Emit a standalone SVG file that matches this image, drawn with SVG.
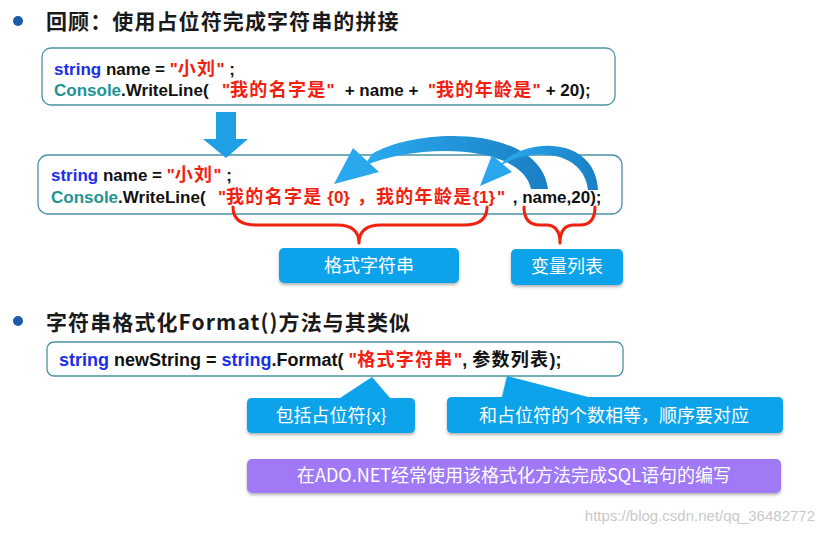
<svg xmlns="http://www.w3.org/2000/svg" width="824" height="533" viewBox="0 0 824 533">
<defs>
<style>
.title{font-family:"Noto Sans CJK SC","Liberation Sans",sans-serif;font-weight:bold;font-size:21px;fill:#1a1a1a;letter-spacing:1.1px}
.code{font-family:"Liberation Sans","Noto Sans CJK SC",sans-serif;font-weight:bold;font-size:17px;fill:#111}
.cjk{font-family:"Noto Sans CJK SC",sans-serif;font-size:18px;letter-spacing:1.3px}
.kw{fill:#1a2fe8}
.cls{fill:#1e9494}
.str{fill:#f2200f}
.box{fill:#fff;stroke:#4a93a3;stroke-width:1.3}
.callout{fill:#0ea3ea;filter:url(#sh)}
.purple{fill:#a07af6;filter:url(#sh)}
.ctext{font-family:"Noto Sans CJK SC",sans-serif;font-size:18px;fill:#fff;text-anchor:middle}
.brace{fill:none;stroke:#f2200f;stroke-width:3;stroke-linecap:round;stroke-linejoin:round}
.bullet{fill:#1d5aa8}
</style>
<filter id="sh" x="-10%" y="-20%" width="120%" height="150%">
<feDropShadow dx="0" dy="2" stdDeviation="1.5" flood-color="#000" flood-opacity="0.3"/>
</filter>
<linearGradient id="g1" x1="0" y1="0" x2="1" y2="0">
<stop offset="0" stop-color="#2aaaf0"/>
<stop offset="1" stop-color="#1a7fc4"/>
</linearGradient>
</defs>

<g id="heading1">
<circle class="bullet" cx="18" cy="21" r="5"/>
<text class="title" x="46" y="29">回顾：使用占位符完成字符串的拼接</text>
</g>

<g id="code1">
<rect class="box" x="42" y="48" width="573" height="57" rx="9"/>
<text class="code" x="54" y="75"><tspan class="kw">string</tspan> name = <tspan class="str">"<tspan class="cjk">小刘</tspan>"</tspan> ;</text>
<text class="code" y="96"><tspan x="54" class="cls">Console</tspan>.WriteLine( <tspan x="222" class="str">"<tspan class="cjk">我的名字是</tspan>"</tspan><tspan x="340"> + name + </tspan><tspan x="428" class="str">"<tspan class="cjk">我的年龄是</tspan>"</tspan><tspan x="541"> + 20);</tspan></text>
</g>

<g id="code2">
<rect class="box" x="38" y="155" width="584" height="59" rx="10"/>
<text class="code" x="51" y="181"><tspan class="kw">string</tspan> name = <tspan class="str">"<tspan class="cjk">小刘</tspan>"</tspan> ;</text>
<text class="code" y="203"><tspan x="51" class="cls">Console</tspan>.WriteLine( <tspan x="218" class="str">"<tspan class="cjk">我的名字是</tspan> {0}</tspan><tspan x="357" class="str cjk">，</tspan><tspan x="376" class="str"><tspan class="cjk">我的年龄是</tspan>{1}</tspan><tspan x="497" class="str">"</tspan><tspan x="508"> , name,20);</tspan></text>
</g>

<g id="label-format">
<rect class="callout" x="279" y="248" width="180" height="35" rx="5"/>
<text class="ctext" x="369" y="272">格式字符串</text>
</g>

<g id="label-vars">
<rect class="callout" x="511" y="249" width="112" height="36" rx="5"/>
<text class="ctext" x="567" y="273">变量列表</text>
</g>

<g id="heading2">
<circle class="bullet" cx="18" cy="321" r="5"/>
<text class="title" x="46" y="330">字符串格式化Format()方法与其类似</text>
</g>

<g id="code3">
<rect class="box" x="47" y="342" width="576" height="34" rx="7"/>
<text class="code" x="59" y="366" style="font-size:18px"><tspan class="kw">string</tspan> newString = <tspan class="kw">string</tspan>.Format( <tspan class="str">"<tspan class="cjk">格式字符串</tspan>"</tspan>, <tspan class="cjk">参数列表</tspan>);</text>
</g>

<g id="label-placeholder">
<path class="callout" d="M252 398 L340 398 L372 377 L390 398 L410 398 Q415 398 415 403 L415 428 Q415 433 410 433 L252 433 Q247 433 247 428 L247 403 Q247 398 252 398 Z"/>
<text class="ctext" x="331" y="422">包括占位符{x}</text>
</g>

<g id="label-count">
<path class="callout" d="M452 397 L502 397 L507 376 L588 397 L778 397 Q783 397 783 402 L783 428 Q783 433 778 433 L452 433 Q447 433 447 428 L447 402 Q447 397 452 397 Z"/>
<text class="ctext" x="614" y="422">和占位符的个数相等，顺序要对应</text>
</g>

<g id="note-sql">
<rect class="purple" x="247" y="459" width="534" height="34" rx="5"/>
<text class="ctext" x="514" y="482">在ADO.NET经常使用该格式化方法完成SQL语句的编写</text>
</g>

<g id="connectors">
<polygon points="216,112 236,112 236,139 248,139 226,158 203,139 216,139" fill="#1f9fe4"/>
<path class="brace" d="M233 207 Q233 225 256 225 L337 225 Q359 225 359 243 Q359 225 381 225 L464 225 Q487 225 487 207"/>
<path class="brace" d="M524 207 Q524 225 540 225 L546 225 Q560 225 560 243 Q560 225 574 225 L580 225 Q595 225 595 207"/>
<path d="M548 189 C540 126 420 126 372 154 L364 166 C420 142 522 145 531 189 Z" fill="url(#g1)"/>
<polygon points="353,148 379,172 334,184" fill="#2aa8ee"/>
<path d="M598 190 C596 140 535 136 505 160 L498 167 C530 146 584 150 588 190 Z" fill="url(#g1)"/>
<polygon points="492,155 512,172 480,186" fill="#2aa6ec"/>
</g>

<text x="815" y="521" font-family="Liberation Sans, sans-serif" font-size="15" fill="#c9c9c9" text-anchor="end">https://blog.csdn.net/qq_36482772</text>
</svg>
